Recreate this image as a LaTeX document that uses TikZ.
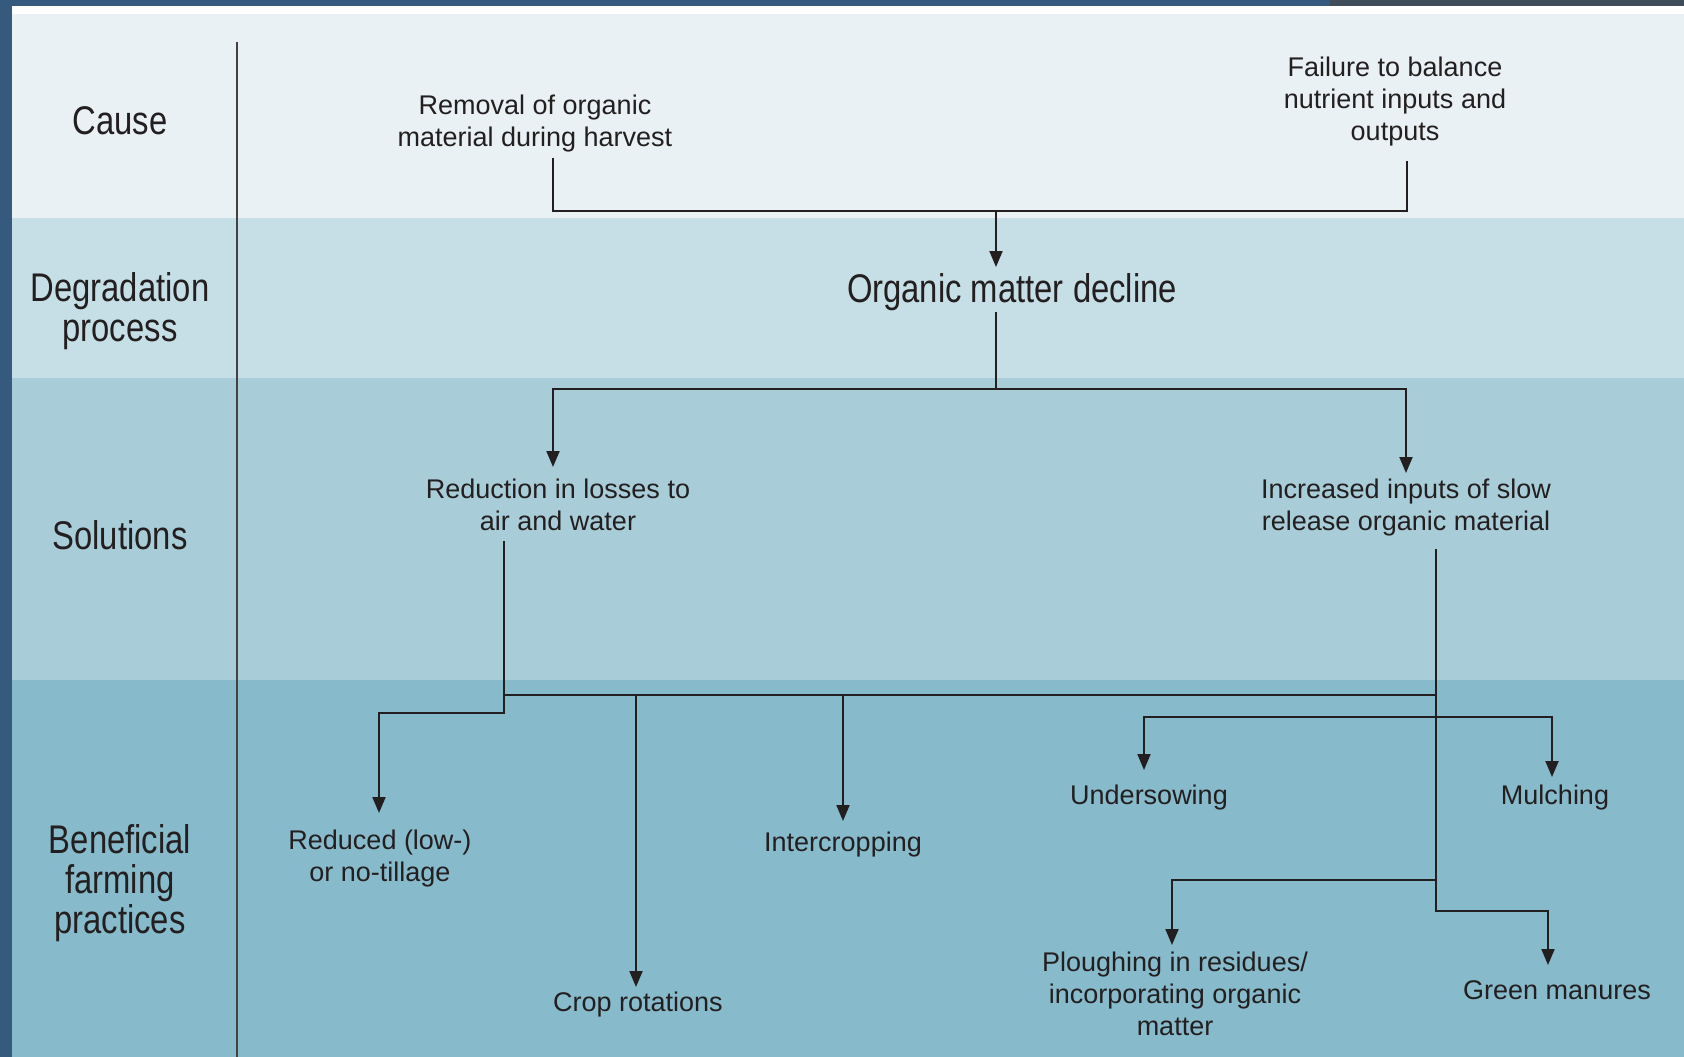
\documentclass[tikz,border=0pt]{standalone}
\usepackage{fontspec}
\setmainfont{Liberation Sans}
\newfontfamily\condfont[FakeStretch=0.82]{Liberation Sans}
\usetikzlibrary{arrows.meta}
\definecolor{frameblue}{HTML}{355A7D}
\definecolor{framegray}{HTML}{3F4C59}
\definecolor{bandA}{HTML}{E9F1F4}
\definecolor{bandB}{HTML}{C6DFE6}
\definecolor{bandC}{HTML}{A8CDD8}
\definecolor{bandD}{HTML}{87BACB}
\definecolor{ink}{HTML}{231F20}

\begin{document}
\begin{tikzpicture}[x=1pt,y=-1pt,
  rowlabel/.style={font=\condfont\fontsize{40}{40}\selectfont, text=ink, align=center, inner sep=0pt, anchor=north},
  bigtxt/.style={font=\condfont\fontsize{40}{40}\selectfont, text=ink, inner sep=0pt, anchor=north},
  txt/.style={font=\fontsize{27}{32}\selectfont, text=ink, align=center, inner sep=0pt, anchor=north},
  wire/.style={draw=ink, line width=2pt},
  arr/.style={wire, -{Triangle[width=13pt,length=16pt]}}]

% background frame and horizontal bands
\fill[frameblue] (0,0) rectangle (1684,1057);
\fill[framegray] (1330,0) rectangle (1684,6);
\fill[white] (12,6) rectangle (1684,14);
\fill[bandA] (12,14) rectangle (1684,218);
\fill[bandB] (12,218) rectangle (1684,378);
\fill[bandC] (12,378) rectangle (1684,680);
\fill[bandD] (12,680) rectangle (1684,1057);
\useasboundingbox (0,0) rectangle (1684,1057);

% column separator
\draw[wire, draw=ink!85] (237,42) -- (237,1057);

% row labels
\node[rowlabel] (lcause) at (120,106) {Cause};
\node[rowlabel] (ldeg) at (120,272) {Degradation\\process};
\node[rowlabel] (lsol) at (120,520) {Solutions};
\node[rowlabel] (lben) at (120,824) {Beneficial\\farming\\practices};

% diagram texts
\node[txt] (removal) at (535,95) {Removal of organic\\material during harvest};
\node[txt] (failure) at (1395,57) {Failure to balance\\nutrient inputs and\\outputs};
\node[bigtxt] (omd) at (1012,273) {Organic matter decline};
\node[txt] (reduction) at (558,479) {Reduction in losses to\\air and water};
\node[txt] (increased) at (1406,479) {Increased inputs of slow\\release organic material};
\node[txt] (tillage) at (380,830) {Reduced (low-)\\or no-tillage};
\node[txt] (rotations) at (638,992) {Crop rotations};
\node[txt] (intercrop) at (843,832) {Intercropping};
\node[txt] (undersow) at (1149,785) {Undersowing};
\node[txt] (mulch) at (1555,785) {Mulching};
\node[txt] (plough) at (1175,952) {Ploughing in residues/\\incorporating organic\\matter};
\node[txt] (green) at (1557,980) {Green manures};

% junction points
\coordinate (jL) at (553,211);
\coordinate (jR) at (1407,211);
\coordinate (jT) at (996,211);
\coordinate (jS) at (996,389);
\coordinate (jSL) at (553,389);
\coordinate (jSR) at (1406,389);
\coordinate (jB1) at (504,695);
\coordinate (jB2) at (1436,695);
\coordinate (jB4) at (379,713);
\coordinate (jRot) at (636,695);
\coordinate (jInt) at (843,695);
\coordinate (jU1) at (1144,717);
\coordinate (jU2) at (1552,717);
\coordinate (jP1) at (1436,880);
\coordinate (jP2) at (1172,880);
\coordinate (jG1) at (1436,911);
\coordinate (jG2) at (1548,911);

% causes -> degradation process
\draw[wire] ([yshift=-5pt]removal.south -| jL) -- (jL) -- (jR) -- ([yshift=-14pt]failure.south -| jR);
\draw[arr] (jT) -- ([yshift=6pt]omd.north -| jT);

% degradation process -> solutions
\draw[wire] ([yshift=-1pt]omd.south -| jS) -- (jS);
\draw[arr] (jS) -| ([yshift=12pt]reduction.north -| jSL);
\draw[arr] (jS) -| ([yshift=6pt]increased.north -| jSR);

% solutions -> practices
\draw[arr] ([yshift=-10pt]reduction.south -| jB1) |- (jB4) -- ([yshift=17pt]tillage.north -| jB4);
\draw[wire] (jB1) -- (jB2);
\draw[arr] (jRot) -- ([yshift=5pt]rotations.north -| jRot);
\draw[arr] (jInt) -- ([yshift=11pt]intercrop.north -| jInt);
\draw[arr] ([yshift=-12pt]increased.south -| jB2) |- (jG2) -- ([yshift=15pt]green.north -| jG2);
\draw[arr] (jU1 -| jB2) -| ([yshift=15pt]undersow.north -| jU1);
\draw[arr] (jU1 -| jB2) -| ([yshift=8pt]mulch.north -| jU2);
\draw[arr] (jP1) -| ([yshift=7pt]plough.north -| jP2);
\end{tikzpicture}
\end{document}
